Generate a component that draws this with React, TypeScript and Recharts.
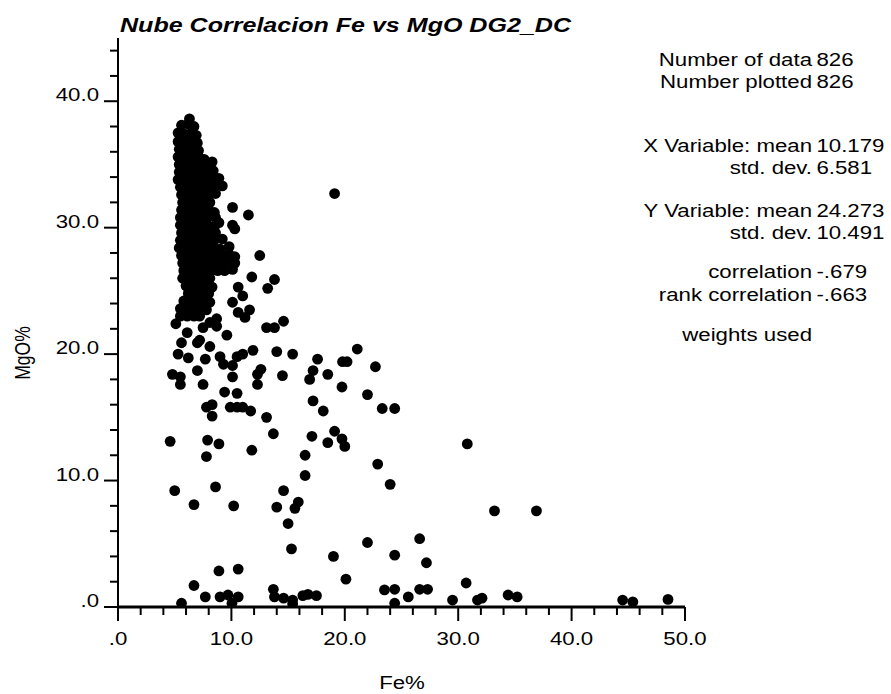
import { Scatter, ScatterChart, XAxis, YAxis } from "recharts";

// Fe% / MgO% pairs

// dense cloud, Fe 5-10, MgO 22-39
const upperCluster: [number, number][] = [
  [6.3, 38.6],
  [5.6, 38.1], [6.2, 38.2], [6.7, 38.0],
  [5.3, 37.5], [5.9, 37.4], [6.5, 37.5], [6.9, 37.3],
  [5.3, 36.8], [5.9, 36.8], [6.5, 36.9], [7.0, 36.7],
  [5.4, 36.2], [6.0, 36.2], [6.6, 36.2], [7.1, 36.1],
  [5.3, 35.6], [5.9, 35.6], [6.5, 35.6], [7.1, 35.6], [7.6, 35.4],
  [5.4, 35.0], [6.0, 35.0], [6.6, 35.0], [7.2, 35.0], [7.8, 35.0], [8.3, 35.2],
  [5.4, 34.4], [6.0, 34.4], [6.6, 34.4], [7.2, 34.4], [7.8, 34.4], [8.4, 34.5],
  [5.3, 33.8], [5.9, 33.8], [6.5, 33.8], [7.1, 33.8], [7.7, 33.8], [8.3, 33.8], [8.9, 33.9],
  [5.5, 33.2], [6.1, 33.2], [6.7, 33.2], [7.3, 33.2], [7.9, 33.2], [8.5, 33.2], [9.2, 33.3],
  [5.6, 32.6], [6.2, 32.6], [6.8, 32.6], [7.4, 32.6], [8.0, 32.6], [8.6, 32.7],
  [5.7, 32.0], [6.3, 32.0], [6.9, 32.0], [7.5, 32.0], [8.1, 32.0],
  [5.6, 31.4], [6.2, 31.4], [6.8, 31.4], [7.4, 31.4], [8.0, 31.4], [8.5, 31.2],
  [5.5, 30.8], [6.1, 30.8], [6.7, 30.8], [7.3, 30.8], [7.9, 30.8], [8.6, 30.8], [8.9, 30.4],
  [5.5, 30.2], [6.1, 30.2], [6.7, 30.2], [7.3, 30.2], [7.9, 30.2], [8.5, 30.1],
  [5.6, 29.6], [6.2, 29.6], [6.8, 29.6], [7.4, 29.6], [8.0, 29.6], [8.6, 29.6],
  [5.5, 29.0], [6.1, 29.0], [6.7, 29.0], [7.3, 29.0], [7.9, 29.0], [8.5, 29.0], [9.2, 29.1],
  [5.4, 28.4], [6.0, 28.4], [6.6, 28.4], [7.2, 28.4], [7.8, 28.4], [8.4, 28.4], [9.0, 28.3], [9.8, 28.5],
  [5.6, 27.8], [6.2, 27.8], [6.8, 27.8], [7.4, 27.8], [8.0, 27.8], [8.6, 27.8], [9.2, 27.8], [9.8, 27.9],
  [5.7, 27.2], [6.3, 27.2], [6.9, 27.2], [7.5, 27.2], [8.1, 27.2], [8.7, 27.2], [9.3, 27.2], [9.9, 27.3],
  [5.8, 26.6], [6.4, 26.6], [7.0, 26.6], [7.6, 26.6], [8.2, 26.6], [8.8, 26.6], [9.4, 26.6], [10.1, 26.7],
  [5.7, 26.0], [6.3, 26.0], [6.9, 26.0], [7.5, 26.0], [8.1, 26.0],
  [6.0, 25.4], [6.6, 25.4], [7.2, 25.4], [7.8, 25.4], [8.3, 25.3],
  [6.2, 24.8], [6.8, 24.8], [7.4, 24.8], [8.0, 24.8],
  [5.8, 24.2], [6.4, 24.2], [7.0, 24.2], [7.6, 24.2], [8.1, 24.1],
  [5.5, 23.6], [6.1, 23.6], [6.7, 23.6], [7.3, 23.6], [7.8, 23.5],
  [5.5, 23.0], [6.1, 23.0], [6.7, 23.0], [7.2, 23.0],
  [5.1, 22.4], [8.1, 22.5], [8.7, 22.8], [8.7, 22.2],
];

// points around the cloud edge plus the lone one near (19, 32.7)
const clusterEdge: [number, number][] = [
  [10.1, 31.6], [11.5, 31.0], [10.1, 30.2], [10.3, 29.9], [10.3, 27.7],
  [10.3, 27.2], [12.5, 27.8], [19.1, 32.7],
];

// MgO 15-26
const midScatter: [number, number][] = [
  [11.8, 26.1], [13.8, 25.9], [13.2, 25.2], [10.6, 25.3], [11.0, 24.6],
  [10.1, 24.1], [11.6, 23.5], [10.6, 23.3], [11.2, 22.9], [7.5, 22.1],
  [6.1, 21.7], [7.2, 21.1], [9.6, 21.5], [13.1, 22.1], [13.8, 22.1],
  [14.6, 22.6], [5.6, 20.9], [7.0, 20.9], [8.1, 20.6], [5.3, 20.0],
  [6.2, 19.7], [9.0, 19.8], [7.7, 19.6], [10.5, 19.8], [11.0, 20.0],
  [11.9, 20.3], [14.0, 20.2], [15.4, 20.0], [9.3, 19.2], [10.1, 19.1],
  [7.0, 18.7], [4.8, 18.4], [5.5, 18.2], [5.5, 17.6], [7.5, 17.6],
  [10.1, 18.2], [12.6, 18.8], [12.3, 18.4], [14.5, 18.3], [12.3, 17.6],
  [9.4, 17.0], [10.5, 16.9], [7.8, 15.8], [8.3, 16.0], [8.3, 15.1],
  [9.9, 15.8], [10.5, 15.8], [11.0, 15.8], [11.7, 15.5], [13.1, 15.0],
  [17.6, 19.6], [19.8, 19.4], [20.2, 19.4], [21.1, 20.4], [17.2, 18.7],
  [16.9, 18.0], [18.5, 18.4], [22.7, 19.0], [19.75, 17.4], [22.0, 16.8],
  [17.2, 16.3], [18.1, 15.5], [23.3, 15.7], [24.4, 15.7],
];

// MgO 1.5-14
const lowScatter: [number, number][] = [
  [4.6, 13.1], [7.9, 13.2], [8.9, 12.9], [7.8, 11.9], [11.8, 12.4],
  [13.7, 13.7], [17.1, 13.5], [19.1, 13.9], [18.5, 13.0], [19.75, 13.3],
  [20.0, 12.7], [16.5, 12.0], [22.9, 11.3], [30.8, 12.9], [16.5, 10.4],
  [24.0, 9.7], [5.0, 9.2], [8.6, 9.5], [14.6, 9.2], [6.7, 8.1],
  [10.2, 8.0], [14.0, 7.9], [15.9, 8.3], [15.6, 7.8], [33.2, 7.6],
  [36.9, 7.6], [15.0, 6.6], [15.3, 4.6], [22.0, 5.1], [26.6, 5.4],
  [19.0, 4.0], [24.4, 4.1], [27.2, 3.5], [8.9, 2.85], [10.6, 3.0],
  [20.1, 2.2], [30.7, 1.9], [6.7, 1.7],
];

// samples sitting on the Fe axis
const baseRow: [number, number][] = [
  [5.6, 0.3], [7.7, 0.8], [9.0, 0.8], [9.7, 0.95], [10.6, 0.8],
  [10.05, 0.3], [13.7, 1.4], [13.8, 0.8], [14.6, 0.7], [15.4, 0.55],
  [15.4, 0.25], [16.3, 0.9], [16.75, 1.0], [17.5, 0.9], [23.5, 1.35],
  [24.4, 1.4], [24.4, 0.3], [25.6, 0.8], [26.6, 1.4], [27.3, 1.4],
  [29.5, 0.55], [31.7, 0.55], [32.1, 0.7], [34.4, 0.95], [35.2, 0.8],
  [44.5, 0.55], [45.4, 0.4], [48.5, 0.6],
];

const xTicks = [0, 2, 4, 6, 8, 10, 12, 14, 16, 18, 20, 22, 24, 26, 28, 30, 32, 34, 36, 38, 40, 42, 44, 46, 48, 50];
const yTicks = [0, 2, 4, 6, 8, 10, 12, 14, 16, 18, 20, 22, 24, 26, 28, 30, 32, 34, 36, 38, 40, 42, 44];

const statLabels = [
  "Number of data",
  "Number plotted",
  "X Variable: mean",
  "std. dev.",
  "Y Variable: mean",
  "std. dev.",
  "correlation",
  "rank correlation",
  "weights used",
];
const statValues = ["826", "826", "10.179", "6.581", "24.273", "10.491", "-.679", "-.663", ""];

// baselines of the stats lines (px)
const statBaselines = [66, 88, 152, 174, 217, 239, 278, 301, 341];

const points = [...upperCluster, ...clusterEdge, ...midScatter, ...lowScatter, ...baseRow].map(
  ([fe, mgo]) => ({ fe, mgo })
);

const FONT = "'Liberation Sans', Arial, Helvetica, sans-serif";
const STRETCH = 1.27; // the original text is drawn wide
const FS = 17.5;

const fmt = (v: number) => (v === 0 ? ".0" : v.toFixed(1));

function XTick(props: any) {
  const { x, y, payload } = props;
  const major = payload.value % 10 === 0;
  return (
    <g>
      <path d={`M${x},${y}V${y + (major ? 14 : 8)}`} stroke="#000" strokeWidth={2} fill="none" />
      {major && (
        <text
          transform={`translate(${x},${y + 38}) scale(${STRETCH},1)`}
          textAnchor="middle"
          fontSize={FS}
          fontFamily={FONT}
          fill="#000"
        >
          {fmt(payload.value)}
        </text>
      )}
    </g>
  );
}

function YTick(props: any) {
  const { x, y, payload } = props;
  const major = payload.value % 10 === 0;
  return (
    <g>
      <path d={`M${x - (major ? 14 : 8)},${y}H${x}`} stroke="#000" strokeWidth={2} fill="none" />
      {major && (
        <text
          transform={`translate(${x - 19},${y}) scale(${STRETCH},1)`}
          textAnchor="end"
          fontSize={FS}
          fontFamily={FONT}
          fill="#000"
        >
          {fmt(payload.value)}
        </text>
      )}
    </g>
  );
}

const Dot = (p: any) => <circle cx={p.cx} cy={p.cy} r={5.4} fill="#000" />;

export default function App() {
  return (
    <div style={{ position: "absolute", left: 0, top: 0, width: 891, height: 694, background: "#fff" }}>
      <ScatterChart width={891} height={694} margin={{ top: 38, right: 206, bottom: 0, left: 0 }}>
        <XAxis
          type="number"
          dataKey="fe"
          domain={[0, 50]}
          ticks={xTicks}
          interval={0}
          allowDataOverflow
          height={87}
          tickSize={0}
          tickMargin={0}
          tickLine={false}
          tick={<XTick />}
          axisLine={{ stroke: "#000", strokeWidth: 3 }}
        />
        <YAxis
          type="number"
          dataKey="mgo"
          domain={[0, 45]}
          ticks={yTicks}
          interval={0}
          allowDataOverflow
          width={118}
          tickSize={0}
          tickMargin={0}
          tickLine={false}
          tick={<YTick />}
          axisLine={{ stroke: "#000", strokeWidth: 2 }}
        />
        <Scatter data={points} shape={<Dot />} isAnimationActive={false} />
      </ScatterChart>

      <svg
        width={891}
        height={694}
        style={{ position: "absolute", left: 0, top: 0, pointerEvents: "none" }}
        fontFamily={FONT}
      >
        <text
          x={120}
          y={32}
          fontSize={21}
          fontWeight="bold"
          fontStyle="italic"
          textLength={451}
          lengthAdjust="spacingAndGlyphs"
          fill="#000"
        >
          Nube Correlacion Fe vs MgO DG2_DC
        </text>

        <g transform={`translate(812,0) scale(${STRETCH},1)`} fontSize={FS} fill="#000">
          {statLabels.map((label, i) => (
            <g key={i}>
              <text x={0} y={statBaselines[i]} textAnchor="end">
                {label}
              </text>
              {statValues[i] && (
                <text x={3.5} y={statBaselines[i]} textAnchor="start">
                  {statValues[i]}
                </text>
              )}
            </g>
          ))}
        </g>

        <text
          transform={`translate(402,689) scale(${STRETCH},1)`}
          textAnchor="middle"
          fontSize={FS}
          fill="#000"
        >
          Fe%
        </text>
        <text
          transform={`translate(30,353) scale(${STRETCH},1) rotate(-90)`}
          textAnchor="middle"
          fontSize={FS}
          fill="#000"
        >
          MgO%
        </text>
      </svg>
    </div>
  );
}
